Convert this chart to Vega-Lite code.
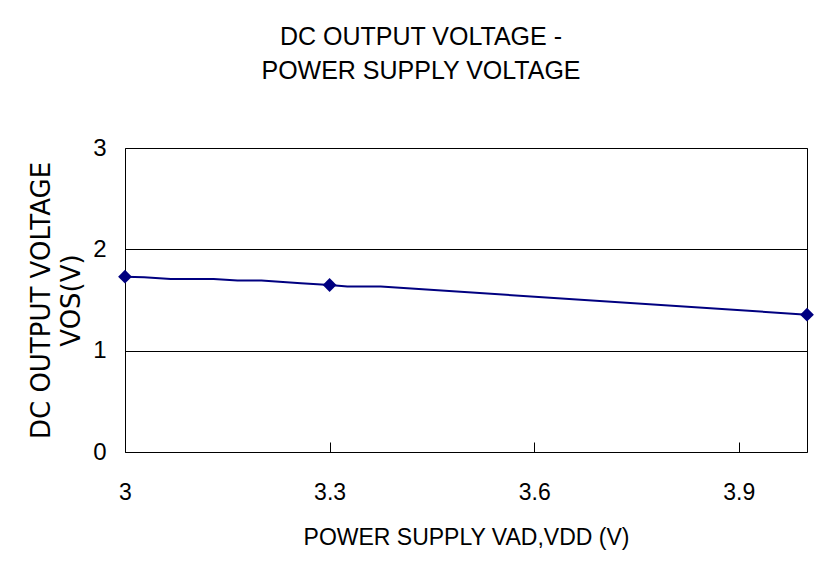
{
  "$schema": "https://vega.github.io/schema/vega-lite/v6.json",
  "autosize": "none",
  "width": 682,
  "height": 304,
  "padding": {"left": 125, "top": 148, "right": 33, "bottom": 129},
  "background": "white",
  "title": {
    "text": ["DC OUTPUT VOLTAGE -", "POWER SUPPLY VOLTAGE"],
    "font": "Liberation Sans",
    "fontSize": 25,
    "fontWeight": "normal",
    "color": "black",
    "lineHeight": 34,
    "anchor": "middle",
    "dx": -45,
    "offset": 52
  },
  "config": {
    "view": {"stroke": "black", "strokeWidth": 1},
    "axis": {"labelFont": "Liberation Sans", "titleFont": "Liberation Sans", "labelColor": "black", "titleColor": "black", "titleFontWeight": "normal"}
  },
  "data": {
    "values": [
      {"v": 3.0, "vos": 1.73, "m": true},
      {"v": 3.028, "vos": 1.725, "m": false},
      {"v": 3.067, "vos": 1.708, "m": false},
      {"v": 3.13, "vos": 1.708, "m": false},
      {"v": 3.165, "vos": 1.692, "m": false},
      {"v": 3.2, "vos": 1.692, "m": false},
      {"v": 3.258, "vos": 1.665, "m": false},
      {"v": 3.3, "vos": 1.648, "m": true},
      {"v": 3.326, "vos": 1.633, "m": false},
      {"v": 3.375, "vos": 1.633, "m": false},
      {"v": 4.0, "vos": 1.355, "m": true}
    ]
  },
  "encoding": {
    "x": {
      "field": "v", "type": "quantitative",
      "scale": {"domain": [3, 4], "nice": false, "zero": false},
      "axis": {
        "values": [3, 3.3, 3.6, 3.9],
        "format": "~g",
        "title": "POWER SUPPLY VAD,VDD (V)",
        "titleFontSize": 23,
        "titlePadding": 22,
        "labelFontSize": 23,
        "labelPadding": 39,
        "tickSize": -10,
        "tickColor": "black",
        "domain": false,
        "grid": false,
        "labelFlush": false
      }
    },
    "y": {
      "field": "vos", "type": "quantitative",
      "scale": {"domain": [0, 3], "nice": false},
      "axis": {
        "values": [0, 1, 2, 3],
        "title": ["DC OUTPUT VOLTAGE", "VOS(V)"],
        "titleFont": "DejaVu Sans",
        "titleFontSize": 26,
        "titleLineHeight": 30,
        "titlePadding": 8,
        "labelFontSize": 24,
        "labelPadding": 19,
        "ticks": false,
        "domain": false,
        "grid": true,
        "gridColor": "black",
        "gridOpacity": 1,
        "gridWidth": 1
      }
    }
  },
  "layer": [
    {"mark": {"type": "line", "color": "#000080", "strokeWidth": 2}},
    {
      "transform": [{"filter": "datum.m"}],
      "mark": {"type": "point", "shape": "diamond", "filled": true, "color": "#000080", "opacity": 1, "size": 190}
    }
  ]
}
